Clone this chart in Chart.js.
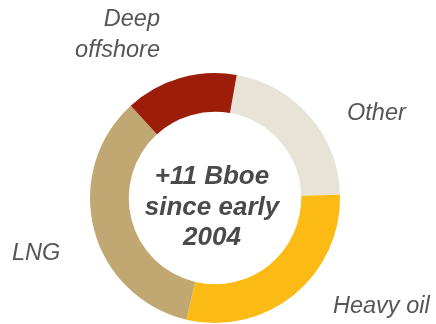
<!DOCTYPE html>
<html>
<head>
<meta charset="utf-8">
<script src="https://cdn.jsdelivr.net/npm/chart.js@4/dist/chart.umd.min.js"></script>
<style>
  html, body { margin: 0; padding: 0; background: #ffffff; }
  #wrap { width: 436px; height: 324px; }
</style>
</head>
<body>
<div id="wrap"><canvas id="c" width="436" height="324"></canvas></div>
<script>
// Reserve growth since early 2004, by source (Bboe)
const categories = ['Other', 'Heavy oil', 'LNG', 'Deep offshore'];
const values = [2.4, 3.2, 3.8, 1.6];
const colors = ['#E7E3D7', '#FBBA14', '#C1A872', '#9B1D0A'];
const centerLines = ['+11 Bboe', 'since early', '2004'];

// Outside label placement (text lines, x, first baseline, alignment)
const labelSpots = {
  'Other':         { lines: ['Other'], x: 347, y: 120, align: 'left' },
  'Heavy oil':     { lines: ['Heavy oil'], x: 333, y: 313, align: 'left' },
  'LNG':           { lines: ['LNG'], x: 12, y: 260, align: 'left' },
  'Deep offshore': { lines: ['Deep', 'offshore'], x: 160, y: 26, align: 'right' }
};

const textPlugin = {
  id: 'ringText',
  afterDraw(chart) {
    const ctx = chart.ctx;
    const arc = chart.getDatasetMeta(0).data[0];
    const cx = arc.x, cy = arc.y;
    ctx.save();
    // center caption
    ctx.fillStyle = '#4a4a4a';
    ctx.font = 'italic bold 26px "Liberation Sans", Arial, sans-serif';
    ctx.textAlign = 'center';
    ctx.textBaseline = 'alphabetic';
    centerLines.forEach((t, i) => ctx.fillText(t, cx - 3, cy - 14 + i * 30.5));
    // category labels
    ctx.fillStyle = '#555555';
    ctx.font = 'italic 23.5px "Liberation Sans", Arial, sans-serif';
    chart.data.labels.forEach(name => {
      const s = labelSpots[name];
      if (!s) return;
      ctx.textAlign = s.align;
      s.lines.forEach((t, i) => ctx.fillText(t, s.x, s.y + i * 31));
    });
    ctx.restore();
  }
};

new Chart(document.getElementById('c'), {
  type: 'doughnut',
  data: {
    labels: categories,
    datasets: [{
      data: values,
      backgroundColor: colors,
      borderWidth: 0,
      hoverOffset: 0
    }]
  },
  options: {
    responsive: false,
    animation: false,
    events: [],
    rotation: 10,
    cutout: '69%',
    layout: { padding: { left: 90, right: 96, top: 73, bottom: 1 } },
    plugins: {
      legend: { display: false },
      tooltip: { enabled: false }
    }
  },
  plugins: [textPlugin]
});
</script>
</body>
</html>
